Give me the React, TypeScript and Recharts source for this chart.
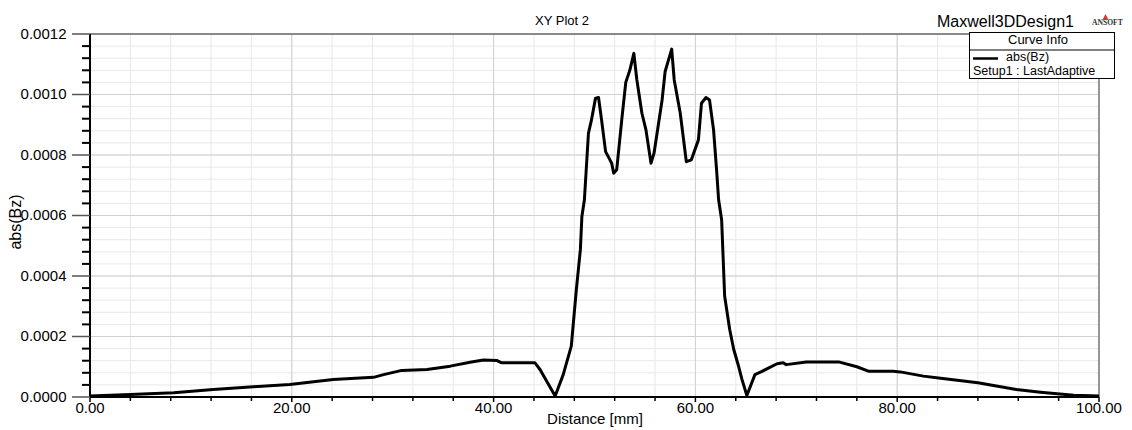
import React from 'react';
import { LineChart, Line, XAxis, YAxis, CartesianGrid, ReferenceLine } from 'recharts';

const distance = [
  0, 4, 8.3, 12.2, 16.2, 19.8, 24.1, 28.1, 29.1, 30.9, 33.4, 35.7, 37.8, 39.0, 40.3, 40.8,
  44.1, 44.6, 46.1, 46.9, 47.7, 48.2, 48.6, 48.75, 49.0, 49.4, 49.7, 50.1, 50.4, 50.7, 51.1,
  51.7, 51.9, 52.2, 52.7, 53.1, 53.5, 53.9, 54.2, 54.7, 55.1, 55.6, 55.9, 56.7, 57.0, 57.65,
  57.9, 58.5, 59.1, 59.6, 60.3, 60.6, 61.05, 61.4, 61.8, 62.1, 62.3, 62.6, 62.9, 63.4, 63.8,
  64.25, 64.6, 65.1, 65.9, 66.6, 68.1, 68.7, 69.0, 71.0, 74.2, 76.0, 77.2, 79.6, 80.3, 82.6,
  84.1, 88.0, 91.8, 94.2, 97.5, 100,
];

const absBz = [
  0.000003, 0.000008, 0.000014, 0.000025, 0.000034, 0.000041, 0.000058, 0.000065, 0.000074,
  0.000088, 0.000091, 0.000102, 0.000116, 0.000122, 0.000121, 0.000113,
  0.000113, 0.000091, 0.000003, 0.000074, 0.000168, 0.000355, 0.000487, 0.000597, 0.000652,
  0.000872, 0.000916, 0.000988, 0.00099, 0.000916, 0.000811,
  0.000773, 0.00074, 0.000751, 0.000916, 0.00104, 0.00108, 0.001136, 0.001048, 0.000938,
  0.000883, 0.000773, 0.000806, 0.000982, 0.001076, 0.00115,
  0.001048, 0.000938, 0.000778, 0.000784, 0.00085, 0.000971, 0.00099, 0.000982, 0.000883,
  0.000751, 0.000652, 0.000586, 0.000333, 0.000223, 0.000157,
  0.000105, 0.00006, 0.000005, 0.000074, 0.000085, 0.00011, 0.000113, 0.000107, 0.000116,
  0.000116, 0.0001, 0.000085, 0.000085, 0.000083, 0.000069,
  0.000063, 0.000047, 0.000025, 0.000016, 0.000006, 0.000003,
];

const xTicks = [0, 4, 8, 12, 16, 20, 24, 28, 32, 36, 40, 44, 48, 52, 56, 60, 64, 68, 72, 76, 80, 84, 88, 92, 96, 100];
const xTickLabels = ['0.00', '20.00', '40.00', '60.00', '80.00', '100.00'];
const xMajor = [20, 40, 60, 80];

const yTicks = [
  0, 0.00004, 0.00008, 0.00012, 0.00016, 0.0002, 0.00024, 0.00028, 0.00032, 0.00036, 0.0004,
  0.00044, 0.00048, 0.00052, 0.00056, 0.0006, 0.00064, 0.00068, 0.00072, 0.00076, 0.0008,
  0.00084, 0.00088, 0.00092, 0.00096, 0.001, 0.00104, 0.00108, 0.00112, 0.00116, 0.0012,
];
const yTickLabels = ['0.0000', '0.0002', '0.0004', '0.0006', '0.0008', '0.0010', '0.0012'];
const yMajor = [0.0002, 0.0004, 0.0006, 0.0008, 0.001];

const data = distance.map((d, i) => ({ d, v: absBz[i] }));

const FONT = '"Liberation Sans", Arial, sans-serif';

const XTick = (props: any) => {
  const { x, y, index } = props;
  const major = index % 5 === 0;
  return (
    <g>
      <line x1={x} x2={x} y1={y} y2={y + (major ? 5 : 4)} stroke="#000" strokeWidth={1.5} />
      {major && (
        <text x={x} y={y + 16} textAnchor="middle" fontSize={15} fontFamily={FONT} fill="#000">
          {xTickLabels[index / 5]}
        </text>
      )}
    </g>
  );
};

const YTick = (props: any) => {
  const { x, y, index } = props;
  const major = index % 5 === 0;
  return (
    <g>
      <line
        x1={x - (major ? 18 : 8)}
        x2={x}
        y1={y}
        y2={y}
        stroke={major ? '#555' : '#000'}
        strokeWidth={major ? 1.5 : 2}
      />
      {major && (
        <text x={x - 23.5} y={y + 4.5} textAnchor="end" fontSize={15} fontFamily={FONT} fill="#000">
          {yTickLabels[index / 5]}
        </text>
      )}
    </g>
  );
};

export default function App() {
  return (
    <div style={{ position: 'absolute', left: 0, top: 0, width: 1132, height: 430, background: '#fff' }}>
      <LineChart width={1132} height={430} data={data} margin={{ top: 34, right: 33, bottom: 3, left: 0 }}>
        <CartesianGrid stroke="#e8e8e8" strokeWidth={1} />
        {xMajor.map((v) => (
          <ReferenceLine key={'x' + v} x={v} stroke="#d0d0d0" strokeWidth={1} />
        ))}
        {yMajor.map((v) => (
          <ReferenceLine key={'y' + v} y={v} stroke="#d0d0d0" strokeWidth={1} />
        ))}
        <ReferenceLine y={0.0012} stroke="#666" strokeWidth={1.5} />
        <ReferenceLine x={100} stroke="#777" strokeWidth={1.5} />
        <XAxis
          type="number"
          dataKey="d"
          domain={[0, 100]}
          ticks={xTicks}
          interval={0}
          tickSize={0}
          tickMargin={0}
          tickLine={false}
          tick={<XTick />}
          axisLine={{ stroke: '#000', strokeWidth: 2 }}
          height={30}
          allowDataOverflow
        />
        <YAxis
          type="number"
          domain={[0, 0.0012]}
          ticks={yTicks}
          interval={0}
          tickSize={0}
          tickMargin={0}
          tickLine={false}
          tick={<YTick />}
          axisLine={{ stroke: '#000', strokeWidth: 2 }}
          width={90}
          allowDataOverflow
        />
        <Line
          type="linear"
          dataKey="v"
          stroke="#000"
          strokeWidth={3}
          dot={false}
          strokeLinejoin="round"
          isAnimationActive={false}
        />
      </LineChart>
      <svg
        width={1132}
        height={430}
        style={{ position: 'absolute', left: 0, top: 0, pointerEvents: 'none' }}
      >
        <text x={562} y={25} textAnchor="middle" fontSize={13} fontFamily={FONT} fill="#000">
          XY Plot 2
        </text>
        <text x={937} y={26.5} fontSize={16} fontFamily={FONT} fill="#000">
          Maxwell3DDesign1
        </text>
        <text
          x={1092}
          y={25}
          fontSize={7.6}
          fontWeight="bold"
          fontFamily='"Liberation Serif", "Times New Roman", serif'
          fill="#333"
        >
          ANSOFT
        </text>
        <polygon points="1105.5,14 1102.5,20 1108.5,20" fill="#d33" />
        <rect x={969.5} y={32.5} width={145} height={46} fill="#fff" stroke="#000" strokeWidth={1} />
        <line x1={969.5} x2={1114.5} y1={50} y2={50} stroke="#000" strokeWidth={1} />
        <text x={1038} y={44} textAnchor="middle" fontSize={13} fontFamily={FONT} fill="#000">
          Curve Info
        </text>
        <line x1={973} x2={998} y1={58.5} y2={58.5} stroke="#000" strokeWidth={2.5} />
        <text x={1006} y={60.5} fontSize={12.5} fontFamily={FONT} fill="#000">
          abs(Bz)
        </text>
        <text x={973} y={74.5} fontSize={12.5} fontFamily={FONT} fill="#000">
          Setup1 : LastAdaptive
        </text>
        <text x={595} y={424} textAnchor="middle" fontSize={15} fontFamily={FONT} fill="#000">
          Distance [mm]
        </text>
        <text
          x={21}
          y={222}
          textAnchor="middle"
          fontSize={16}
          fontFamily={FONT}
          fill="#000"
          transform="rotate(-90, 21, 222)"
        >
          abs(Bz)
        </text>
      </svg>
    </div>
  );
}
